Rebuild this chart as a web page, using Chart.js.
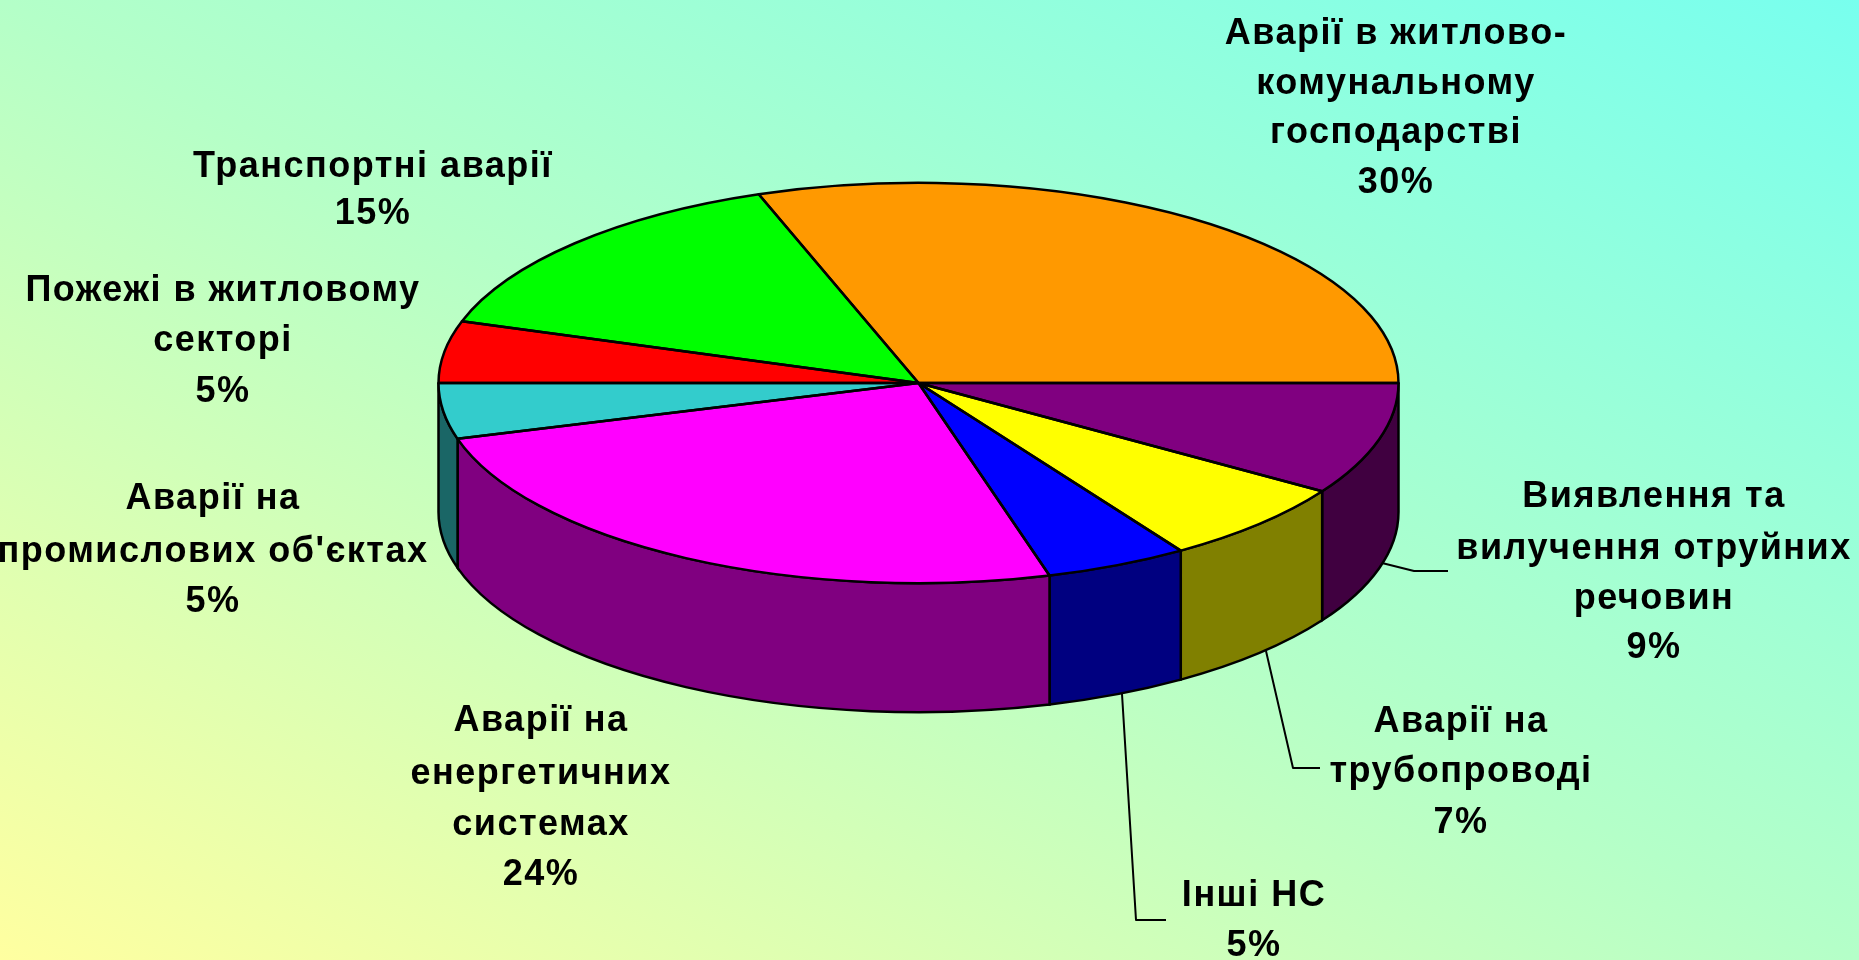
<!DOCTYPE html>
<html>
<head>
<meta charset="utf-8">
<title>Аварії</title>
<script src="https://cdn.jsdelivr.net/npm/chart.js@4"></script>
<style>
  html, body { margin: 0; padding: 0; width: 1859px; height: 960px; overflow: hidden; }
  body { background: linear-gradient(to top right, #ffffa0, #b4ffc8 50%, #78ffee); }
  canvas { display: block; }
</style>
</head>
<body>
<canvas id="pie" width="1859" height="960"></canvas>
<script>
// slices run clockwise from 3 o'clock, same as the picture
const categories = [
  'Виявлення та вилучення отруйних речовин',
  'Аварії на трубопроводі',
  'Інші НС',
  'Аварії на енергетичних системах',
  'Аварії на промислових об\'єктах',
  'Пожежі в житловому секторі',
  'Транспортні аварії',
  'Аварії в житлово-комунальному господарстві'
];
const values = [9.1, 6.7, 4.8, 24.9, 4.5, 5, 14.6, 30.4];
const topColors = ['#800080', '#ffff00', '#0000ff', '#ff00ff', '#33cccc', '#ff0000', '#00ff00', '#ff9900'];
const sideColors = ['#400040', '#808000', '#000080', '#800080', '#1a6666', '#800000', '#008000', '#804c00'];

// label text split in lines, with the centre x and the y of each line
const labelLines = [
  ['Виявлення та', 'вилучення отруйних', 'речовин', '9%'],
  ['Аварії на', 'трубопроводі', '7%'],
  ['Інші НС', '5%'],
  ['Аварії на', 'енергетичних', 'системах', '24%'],
  ['Аварії на', 'промислових об\'єктах', '5%'],
  ['Пожежі в житловому', 'секторі', '5%'],
  ['Транспортні аварії', '15%'],
  ['Аварії в житлово-', 'комунальному', 'господарстві', '30%']
];
const labelX = [1654, 1461, 1254, 541, 213, 223, 373, 1396];
const labelY = [
  [497, 549, 599, 648],
  [722, 772, 823],
  [896, 946],
  [721, 774, 825, 875],
  [499, 552, 602],
  [291, 341, 392],
  [167, 214],
  [34, 84, 133, 183]
];
// leader lines from the wall to the label
const leaders = [
  [[1382, 563], [1414, 571], [1448, 571]],
  [[1266, 651], [1293, 768], [1320, 768]],
  [[1122, 694], [1136, 920], [1166, 920]]
];

const CENTER_Y = 383;
const SQUASH = 0.417;
const DEPTH = 129;

function ellipseArc(ctx, x, y, r, a0, a1, back) {
  ctx.ellipse(x, y, r, r * SQUASH, 0, a0, a1, back);
}

function drawWalls(ctx, arcs) {
  arcs.forEach((arc, i) => {
    const a0 = Math.max(arc.startAngle, 0);
    const a1 = Math.min(arc.endAngle, Math.PI);
    if (a1 <= a0) return;
    const r = arc.outerRadius;
    ctx.beginPath();
    ellipseArc(ctx, arc.x, CENTER_Y, r, a0, a1, false);
    ellipseArc(ctx, arc.x, CENTER_Y + DEPTH, r, a1, a0, true);
    ctx.closePath();
    ctx.fillStyle = sideColors[i];
    ctx.fill();
    ctx.lineWidth = 2.5;
    ctx.strokeStyle = '#000';
    ctx.stroke();
  });
}

function drawOutlines(ctx, arcs) {
  arcs.forEach(arc => {
    ctx.beginPath();
    ctx.moveTo(arc.x, CENTER_Y);
    ellipseArc(ctx, arc.x, CENTER_Y, arc.outerRadius, arc.startAngle, arc.endAngle, false);
    ctx.closePath();
    ctx.lineWidth = 2.5;
    ctx.lineJoin = 'round';
    ctx.strokeStyle = '#000';
    ctx.stroke();
  });
}

function drawLeaders(ctx) {
  leaders.forEach(pts => {
    ctx.beginPath();
    pts.forEach((p, j) => j ? ctx.lineTo(p[0], p[1]) : ctx.moveTo(p[0], p[1]));
    ctx.lineWidth = 2;
    ctx.strokeStyle = '#000';
    ctx.stroke();
  });
}

function drawLabels(ctx) {
  ctx.fillStyle = '#000';
  ctx.font = 'bold 36px "Liberation Sans", Arial, sans-serif';
  ctx.textAlign = 'center';
  ctx.textBaseline = 'middle';
  ctx.letterSpacing = '1.5px';
  labelLines.forEach((lines, i) => {
    lines.forEach((line, j) => ctx.fillText(line, labelX[i], labelY[i][j]));
  });
}

// the library draws a flat circle, this tips it over and adds the side wall
const tiltedPie = {
  id: 'tiltedPie',
  beforeDatasetsDraw(chart) {
    const ctx = chart.ctx;
    const arcs = chart.getDatasetMeta(0).data;
    drawWalls(ctx, arcs);
    ctx.save();
    ctx.translate(0, CENTER_Y);
    ctx.scale(1, SQUASH);
    ctx.translate(0, -arcs[0].y);
  },
  afterDatasetsDraw(chart) {
    const ctx = chart.ctx;
    const arcs = chart.getDatasetMeta(0).data;
    ctx.restore();
    drawOutlines(ctx, arcs);
    drawLeaders(ctx);
    drawLabels(ctx);
  }
};

new Chart(document.getElementById('pie'), {
  type: 'pie',
  data: {
    labels: categories,
    datasets: [{ data: values, backgroundColor: topColors, borderWidth: 0, clip: false }]
  },
  options: {
    responsive: false,
    animation: false,
    rotation: 90,
    layout: { padding: { right: 22 } },
    plugins: { legend: { display: false }, tooltip: { enabled: false } }
  },
  plugins: [tiltedPie]
});
</script>
</body>
</html>
